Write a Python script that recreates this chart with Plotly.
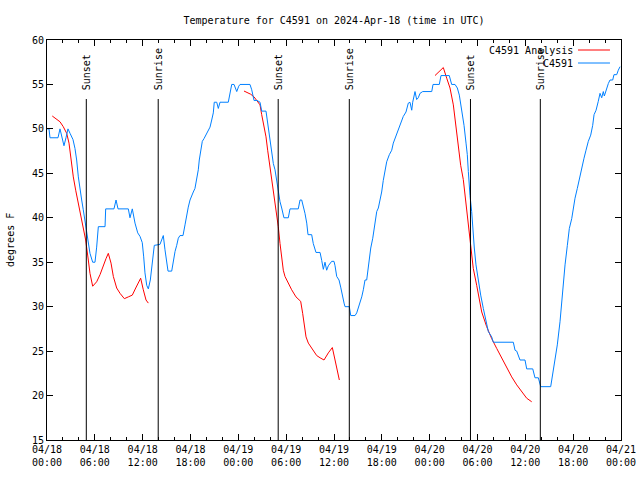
import plotly.graph_objects as go

# ---------------- data ----------------
# hours since 2024-04-18 00:00 UTC
obs_hours = [0.00, 0.25, 0.38, 1.38, 1.63, 1.88, 2.13, 2.38, 2.63, 2.89, 3.26, 3.51, 3.72, 3.93, 4.14,
             4.35, 4.55, 4.77, 4.98, 5.18, 5.39, 5.73, 6.02, 6.23, 6.44, 7.28, 7.36, 8.40, 8.66, 8.91,
             10.20, 10.41, 10.70, 11.04, 11.38, 11.67, 11.95, 12.13, 12.29, 12.51, 12.71, 12.96, 13.21,
             13.46, 14.17, 14.39, 14.59, 14.80, 15.01, 15.18, 15.64, 15.84, 16.06, 16.27, 16.47, 16.68,
             17.06, 17.31, 17.52, 17.72, 17.94, 18.15, 18.35, 18.56, 18.78, 18.98, 19.10, 19.28, 19.48,
             19.69, 19.94, 20.23, 20.45, 20.66, 20.86, 20.98, 21.29, 21.49, 21.70, 22.74, 22.96, 23.17,
             23.46, 23.80, 24.05, 24.21, 25.46, 25.68, 25.97, 26.34, 26.72, 26.93, 27.47, 27.63, 27.89,
             28.10, 28.39, 28.60, 28.81, 29.01, 29.23, 29.44, 29.72, 30.27, 30.48, 31.52, 31.74, 31.95,
             32.15, 32.36, 32.58, 32.74, 33.20, 33.40, 33.74, 34.25, 34.46, 34.66, 34.87, 35.08, 35.29,
             35.71, 36.00, 36.13, 36.34, 36.63, 36.84, 37.04, 37.26, 37.38, 37.92, 38.10, 38.64, 38.85,
             39.05, 39.26, 39.48, 39.68, 39.89, 40.10, 40.30, 40.43, 40.61, 40.86, 41.14, 41.36, 41.56,
             41.98, 42.18, 42.40, 42.61, 42.94, 43.24, 43.44, 43.65, 43.87, 44.07, 44.28, 44.49, 44.69,
             45.03, 45.32, 45.53, 45.75, 45.87, 46.16, 46.37, 46.57, 46.79, 47.13, 48.26, 48.42, 49.21,
             49.42, 50.46, 50.76, 51.18, 51.47, 51.72, 52.02, 52.31, 52.56, 52.72, 52.85, 52.94, 53.06,
             53.27, 53.40, 53.60, 53.81, 54.10, 54.40, 54.73, 55.07, 55.36, 55.78, 55.98, 58.49, 58.71,
             58.92, 59.33, 59.96, 60.17, 60.93, 61.21, 61.63, 61.93, 63.18, 63.43, 63.72, 64.01, 64.35,
             64.56, 64.76, 64.98, 65.27, 65.52, 65.82, 66.02, 66.23, 66.52, 66.77, 67.07, 67.36, 67.61,
             67.90, 68.20, 68.45, 68.62, 68.87, 69.15, 69.37, 69.58, 69.78, 69.91, 70.21, 70.41, 70.62,
             70.96, 71.12, 71.46, 71.66, 71.88]
obs_temp = [50.0, 50.0, 49.0, 49.0, 50.0, 49.0, 48.1, 49.0, 50.0, 49.5, 48.8, 47.8, 46.5, 44.6, 43.1,
            42.0, 40.9, 39.6, 37.9, 37.2, 36.0, 35.0, 35.0, 36.7, 39.0, 39.0, 41.0, 41.0, 42.0, 41.0,
            41.0, 40.0, 41.0, 39.4, 38.3, 37.9, 37.2, 35.6, 33.8, 32.4, 32.0, 33.0, 34.9,
            36.9, 37.0, 37.5, 38.0, 36.4, 35.2, 34.0, 34.0, 35.2, 36.2, 36.9, 37.7, 38.0,
            38.0, 39.2, 40.3, 41.2, 42.0, 42.6, 42.9, 43.3, 44.2, 45.4, 46.5, 47.6, 48.6,
            48.9, 49.3, 49.9, 50.2, 51.0, 51.8, 53.0, 53.0, 52.3, 53.0, 53.0, 54.0, 55.0,
            55.0, 54.2, 54.8, 55.0, 55.0, 54.4, 53.2, 53.2, 53.0, 52.0, 52.0, 51.0, 49.5,
            48.0, 46.1, 45.4, 44.2, 43.0, 41.8, 41.1, 40.0, 40.0, 41.0, 41.0, 42.0, 42.0,
            41.4, 40.5, 39.4, 38.1, 38.1, 37.1, 36.1, 36.1, 35.2, 34.2, 35.0, 34.1, 34.6,
            35.1, 35.1, 34.6, 33.4, 33.0, 32.2, 31.1, 30.4, 30.0, 30.0, 29.0, 29.0, 29.3,
            29.8, 30.4, 31.1, 31.9, 33.0, 33.0, 34.5, 35.4, 36.6, 37.7, 39.4, 40.7, 41.1,
            42.9, 44.2, 45.4, 46.3, 47.1, 47.6, 48.4, 48.9, 49.3, 49.9, 50.2, 50.8, 51.4,
            51.9, 52.9, 53.0, 52.1, 53.0, 54.2, 53.3, 53.5, 54.0, 54.2, 54.2, 55.0, 55.0,
            56.0, 56.0, 55.0, 55.0, 54.6, 53.8, 52.3, 50.4, 48.4, 47.1, 45.2, 43.4, 42.5,
            40.7, 38.8, 36.6, 34.7, 32.8, 31.3, 29.8, 28.3, 27.2, 26.6, 26.0, 26.0, 25.1,
            25.0, 24.0, 24.0, 23.0, 23.0, 22.0, 22.0, 21.0, 21.0, 22.3, 23.8, 25.7, 28.3,
            30.6, 32.8, 34.7, 36.9, 38.8, 39.9, 41.1, 42.2, 43.3, 44.4, 45.6, 46.7, 47.6,
            48.6, 49.3, 50.4, 51.6, 52.1, 53.1, 54.0, 53.5, 54.2, 53.7, 54.6, 55.1, 55.5,
            55.5, 56.1, 56.1, 56.6, 57.0]

# analysis series (None marks gaps between model runs)
ana_hours = [0.66, 1.22, 1.63, 2.04, 2.47, 2.76, 3.01, 3.30, 3.60, 3.93, 4.26, 4.55, 4.85, 5.18, 5.39,
             5.73, 6.23, 6.65, 7.06, 7.40, 7.69, 8.03, 8.32, 8.74, 9.16, 9.70, 10.20, 10.70, 11.13,
             11.75, 12.08, 12.42, 12.71, None,
             24.71, 25.13, 25.55, 25.97, 26.38, 26.72, 26.93, 27.22, 27.47, 27.68, 27.89, 28.19, 28.39,
             28.60, 28.81, 29.01, 29.23, 29.44, 29.64, 29.85, 30.27, 30.69, 31.23, 31.82, 32.07, 32.28,
             32.49, 32.78, 33.20, 33.83, 34.25, 34.75, 35.29, 35.79, 36.13, 36.42, 36.67, None,
             48.67, 49.30, 49.71, 50.14, 50.55, 50.97, 51.30, 51.59, 51.89, 52.22, 52.56, 52.85, 53.15,
             53.47, 53.90, 54.23, 54.53, 55.15, 55.78, 56.41, 57.04, 57.66, 58.29, 58.92, 59.55, 60.17,
             60.80]
ana_temp = [51.45, 51.1, 50.8, 50.25, 49.5, 48.4, 46.5, 44.6, 43.1, 41.6, 40.1, 38.8, 37.5, 35.25, 33.75,
            32.3, 32.8, 33.6, 34.7, 35.4, 36.0, 34.9, 33.4, 32.1, 31.5, 30.9, 31.1, 31.3, 32.1,
            33.2, 31.9, 30.75, 30.4, None,
            54.26, 54.1, 53.9, 53.6, 53.1, 52.7, 51.6, 50.25, 49.1, 47.6, 46.3, 44.6, 43.1,
            42.0, 40.5, 39.0, 37.1, 35.25, 34.1, 33.4, 32.6, 31.9, 31.1, 30.6, 29.25, 27.75,
            26.6, 25.9, 25.3, 24.5, 24.25, 24.0, 24.8, 25.4, 24.0, 22.7, 21.75, None,
            56.0, 56.5, 56.9, 55.7, 54.6, 52.7, 50.4, 48.2, 45.9, 44.3, 41.6, 38.8, 36.6,
            34.3, 32.4, 30.9, 29.4, 27.75, 26.4, 25.3, 24.2, 23.1, 22.1, 21.2, 20.4, 19.7,
            19.3]

sun_events = ["Sunset", "Sunrise", "Sunset", "Sunrise", "Sunset", "Sunrise"]
sun_hours = [4.93, 13.95, 29.0, 37.92, 53.12, 61.88]

tick_hours = [0, 6, 12, 18, 24, 30, 36, 42, 48, 54, 60, 66, 72]
tick_labels = ["04/18<br>00:00", "04/18<br>06:00", "04/18<br>12:00", "04/18<br>18:00",
               "04/19<br>00:00", "04/19<br>06:00", "04/19<br>12:00", "04/19<br>18:00",
               "04/20<br>00:00", "04/20<br>06:00", "04/20<br>12:00", "04/20<br>18:00",
               "04/21<br>00:00"]

series_names = ["C4591 Analysis", "C4591"]
series_colors = ["#ff0000", "#0080ff"]

# ---------------- figure ----------------
FONT = "DejaVu Sans Mono"
fig = go.Figure()
fig.add_trace(go.Scatter(x=ana_hours, y=ana_temp, mode="lines", name=series_names[0],
                         line=dict(color=series_colors[0], width=1), connectgaps=False))
fig.add_trace(go.Scatter(x=obs_hours, y=obs_temp, mode="lines", name=series_names[1],
                         line=dict(color=series_colors[1], width=1)))

for name, h in zip(sun_events, sun_hours):
    fig.add_shape(type="line", xref="x", yref="paper", x0=h, x1=h, y0=0, y1=0.8525,
                  line=dict(color="black", width=1))
    fig.add_annotation(text=name, x=h, xref="x", y=0.87, yref="paper", textangle=-90,
                       xanchor="center", yanchor="bottom", showarrow=False,
                       font=dict(family=FONT, size=10, color="black"))

# gnuplot-style legend (text on left, sample on right)
leg_y = [0.975, 0.9425]
for name, col, yy in zip(series_names, series_colors, leg_y):
    fig.add_annotation(text=name, x=0.9199, xref="paper", y=yy, yref="paper",
                       xanchor="right", yanchor="middle", showarrow=False,
                       font=dict(family=FONT, size=10, color="black"))
    fig.add_shape(type="line", xref="paper", yref="paper", x0=0.9251, x1=0.9808, y0=yy, y1=yy,
                  line=dict(color=col, width=1))

fig.add_annotation(text="degrees F", x=-0.0645, xref="paper", y=0.5, yref="paper",
                   textangle=-90, showarrow=False, xanchor="center", yanchor="middle",
                   font=dict(family=FONT, size=10, color="black"))

fig.update_layout(
    width=640, height=480,
    margin=dict(l=47, r=19, t=40, b=40, autoexpand=False),
    paper_bgcolor="white", plot_bgcolor="white",
    showlegend=False,
    font=dict(family=FONT, size=10, color="black"),
    title=dict(text="Temperature for C4591 on 2024-Apr-18 (time in UTC)", x=0.5, xref="paper",
               xanchor="center", y=1 - 20 / 480, yref="container", yanchor="middle",
               font=dict(family=FONT, size=10, color="black")),
    xaxis=dict(range=[0, 72], tickmode="array", tickvals=tick_hours, ticktext=tick_labels,
               ticks="inside", ticklen=6, tickcolor="black", showline=True, linecolor="black",
               linewidth=1, mirror="allticks", showgrid=False, zeroline=False, automargin=False,
               minor=dict(tickmode="linear", tick0=0, dtick=2, ticks="inside", ticklen=3,
                          tickcolor="black"),
               tickfont=dict(family=FONT, size=10, color="black")),
    yaxis=dict(range=[15, 60], tickmode="linear", tick0=15, dtick=5,
               ticks="inside", ticklen=6, tickcolor="black", showline=True, linecolor="black",
               linewidth=1, mirror="allticks", showgrid=False, zeroline=False, automargin=False,
               tickfont=dict(family=FONT, size=10, color="black")),
)

fig.write_html("out.html")
